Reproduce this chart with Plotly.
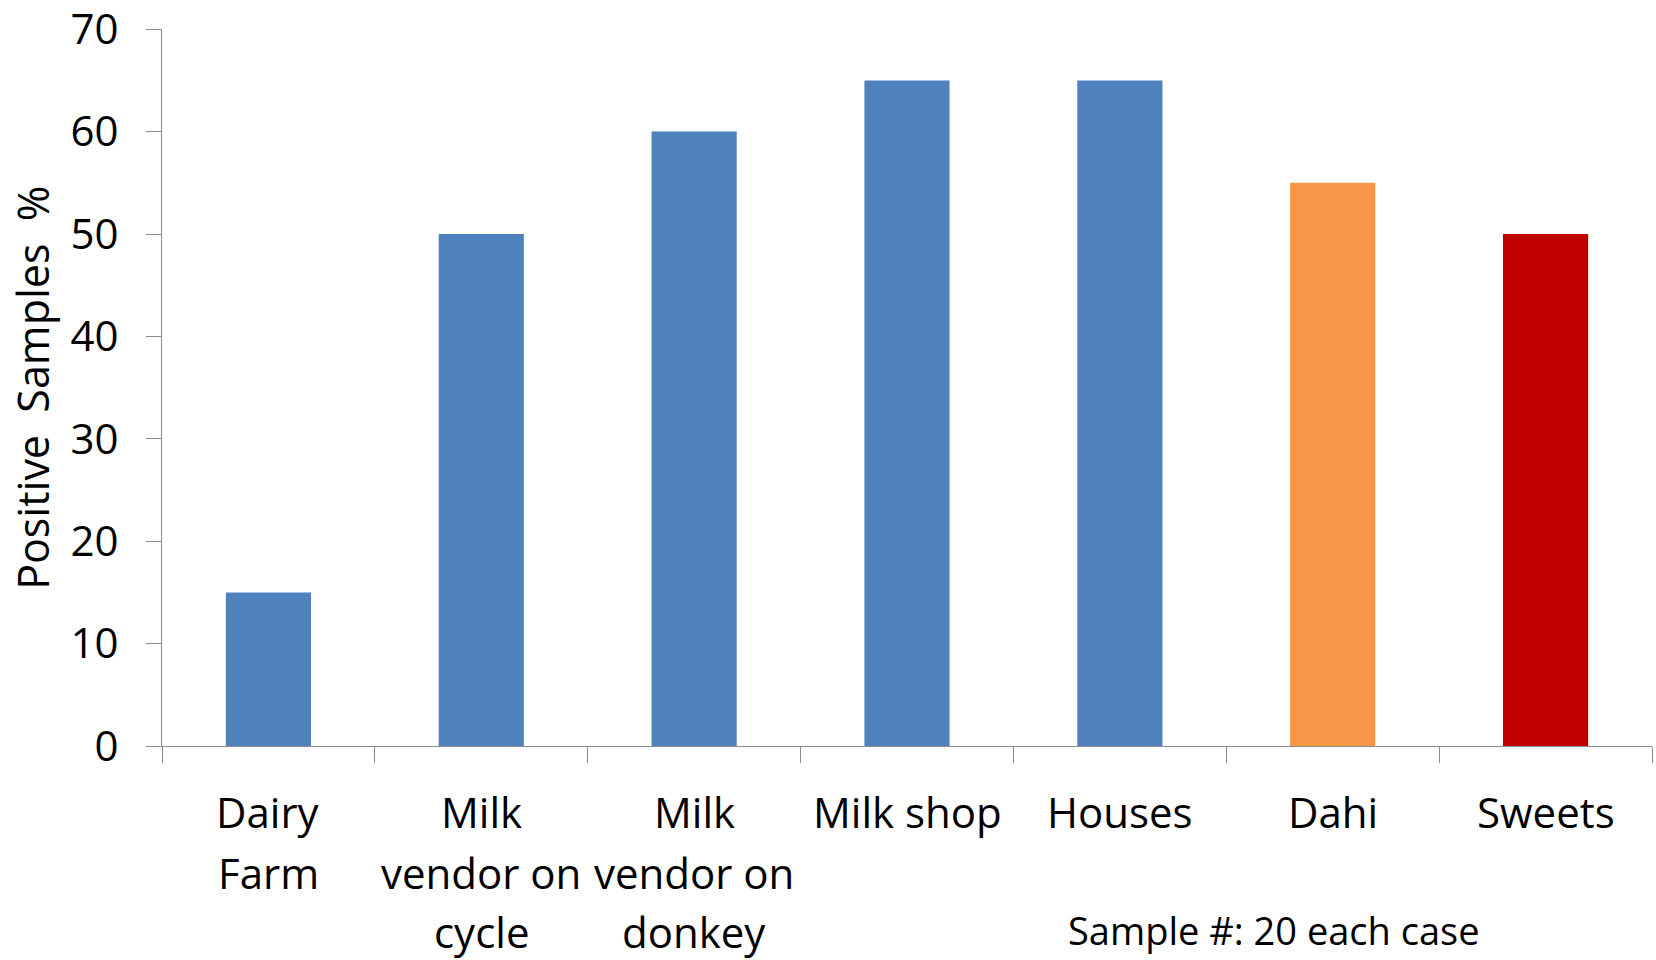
import plotly.graph_objects as go

# Share of positive samples per source (20 samples each)
categories = ["Dairy Farm", "Milk vendor on cycle", "Milk vendor on donkey",
              "Milk shop", "Houses", "Dahi", "Sweets"]
label_lines = [["Dairy", "Farm"], ["Milk", "vendor on", "cycle"],
               ["Milk", "vendor on", "donkey"], ["Milk shop"], ["Houses"],
               ["Dahi"], ["Sweets"]]
positive_pct = [15, 50, 60, 65, 65, 55, 50]
bar_colors = ["#4F81BD", "#4F81BD", "#4F81BD", "#4F81BD", "#4F81BD",
              "#F79646", "#C00000"]
y_ticks = [0, 10, 20, 30, 40, 50, 60, 70]

FONT = "Open Sans, Noto Sans, sans-serif"
AXIS_GREY = "#8C8C8C"

fig = go.Figure(go.Bar(
    x=categories,
    y=positive_pct,
    marker=dict(color=bar_colors, line=dict(width=0)),
    hoverinfo="x+y",
))

# Category labels, one annotation per text line for Calibri-like line spacing
line_offsets = [-65, -126, -185]
for cat, lines in zip(categories, label_lines):
    for j, txt in enumerate(lines):
        fig.add_annotation(
            x=cat, xref="x", y=0, yref="paper",
            yanchor="middle", xanchor="center",
            yshift=line_offsets[j],
            text=txt, showarrow=False,
            font=dict(family=FONT, size=42, color="#000000"),
        )

# Y-axis title
fig.add_annotation(
    x=-0.087, xref="paper", y=0.5, yref="paper",
    xanchor="center", yanchor="middle", textangle=-90,
    text="Positive\u00a0 Samples\u00a0 %", showarrow=False,
    font=dict(family=FONT, size=43, color="#000000"),
)

# Sample size note
fig.add_annotation(
    x=(1274 - 162) / 1490, xref="paper", y=0, yref="paper",
    xanchor="center", yanchor="middle", yshift=-184,
    text="Sample #: 20 each case", showarrow=False,
    font=dict(family=FONT, size=38, color="#000000"),
)

fig.update_layout(
    width=1656, height=960,
    margin=dict(l=162, r=4, t=29, b=214, autoexpand=False),
    paper_bgcolor="#FFFFFF", plot_bgcolor="#FFFFFF",
    bargap=0.6,
    showlegend=False,
    font=dict(family=FONT, color="#000000"),
    xaxis=dict(
        type="category",
        showticklabels=False,
        showgrid=False, zeroline=False,
        showline=True, linecolor=AXIS_GREY, linewidth=1.3,
        ticks="outside", tickson="boundaries", ticklen=16,
        tickcolor=AXIS_GREY, tickwidth=1.3,
        automargin=False,
    ),
    yaxis=dict(
        range=[0, 70.02],
        tickvals=y_ticks,
        showgrid=False, zeroline=False,
        showline=True, linecolor=AXIS_GREY, linewidth=1.3,
        ticks="outside", ticklen=15, tickcolor=AXIS_GREY, tickwidth=1.3,
        tickfont=dict(family=FONT, size=42, color="#000000"),
        ticklabelstandoff=19,
        ticklabeloverflow="allow",
        automargin=False,
    ),
)

fig.write_html("out.html")
